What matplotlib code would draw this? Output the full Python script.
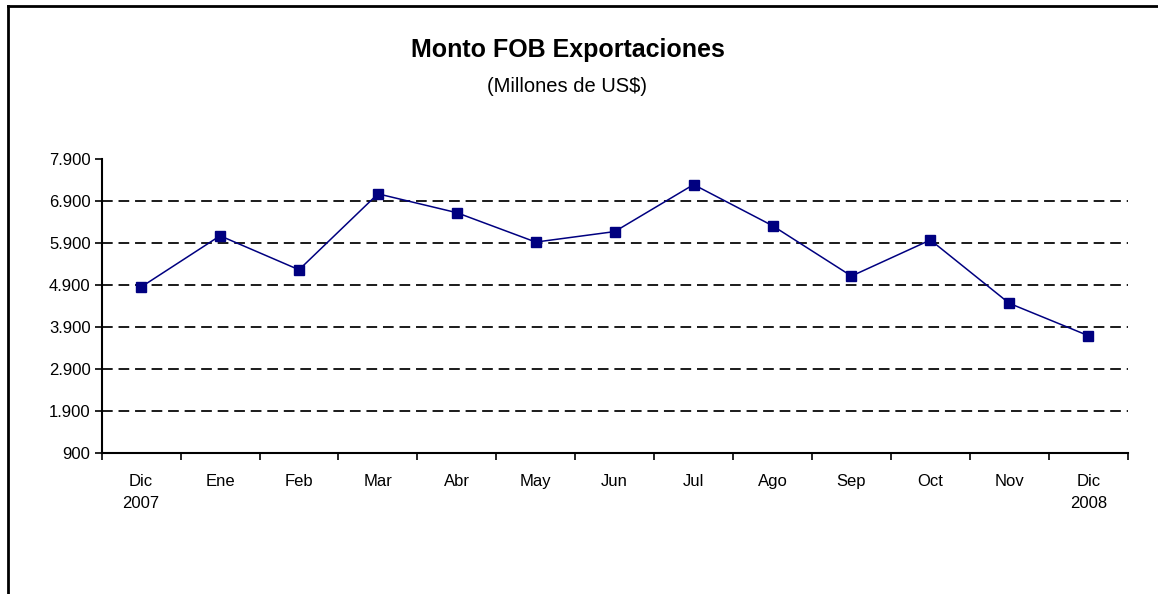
import matplotlib
matplotlib.use("Agg")
import matplotlib.pyplot as plt
from matplotlib.lines import Line2D
from matplotlib.ticker import FuncFormatter, FixedLocator

months = ["Dic\n2007", "Ene", "Feb", "Mar", "Abr", "May", "Jun", "Jul",
          "Ago", "Sep", "Oct", "Nov", "Dic\n2008"]
values = [4850, 6070, 5260, 7070, 6620, 5920, 6170, 7290, 6310, 5110, 5970, 4460, 3690]
yticks = [900, 1900, 2900, 3900, 4900, 5900, 6900, 7900]

plt.rcParams['font.family'] = ['Liberation Sans', 'DejaVu Sans']

fig = plt.figure(figsize=(11.58, 5.94), dpi=100)
ax = fig.add_axes([101.7/1158, 1-452.7/594, (1127.7-101.7)/1158, (452.7-159)/594])

x = list(range(len(months)))
ax.plot(x, values, color='#000080', lw=1.1, marker='s', markersize=7.5,
        markerfacecolor='#000080', markeredgecolor='#000080', zorder=3)

ax.set_xlim(-0.5, len(months) - 0.5)
ax.set_ylim(yticks[0], yticks[-1])
ax.set_yticks(yticks)
ax.yaxis.set_major_formatter(FuncFormatter(lambda v, p: f"{int(v):,}".replace(",", ".")))

# gridlines
for yv in yticks[1:-1]:
    ax.axhline(yv, color='#1a1a1a', lw=1.4, ls=(0, (5.5, 3)), zorder=1)

ax.set_xticks(x)
ax.set_xticklabels(months, fontsize=12, linespacing=1.6)
ax.xaxis.set_minor_locator(FixedLocator([i - 0.5 for i in range(len(months) + 1)]))
ax.tick_params(axis='x', which='major', length=0, pad=15)
ax.tick_params(axis='x', which='minor', length=5, width=1.2, direction='out', color='black')
ax.tick_params(axis='y', which='major', length=5, width=1.2, direction='out', labelsize=12, pad=3)
for lab in ax.get_xticklabels():
    lab.set_verticalalignment('top')

for s in ['top', 'right']:
    ax.spines[s].set_visible(False)
for s in ['left', 'bottom']:
    ax.spines[s].set_linewidth(1.5)
    ax.spines[s].set_color('black')

fig.text(568/1158, 1-50/594, "Monto FOB Exportaciones", ha='center', va='center',
         fontsize=18, fontweight='bold')
fig.text(567/1158, 1-86/594, "(Millones de US$)", ha='center', va='center', fontsize=14.5)

# outer frame lines
fig.add_artist(Line2D([8/1158, 8/1158], [0, 1-6/594], transform=fig.transFigure, color='black', lw=2))
fig.add_artist(Line2D([8/1158, 1], [1-6/594, 1-6/594], transform=fig.transFigure, color='black', lw=2))

fig.savefig("out.png", dpi=100, facecolor='white')
